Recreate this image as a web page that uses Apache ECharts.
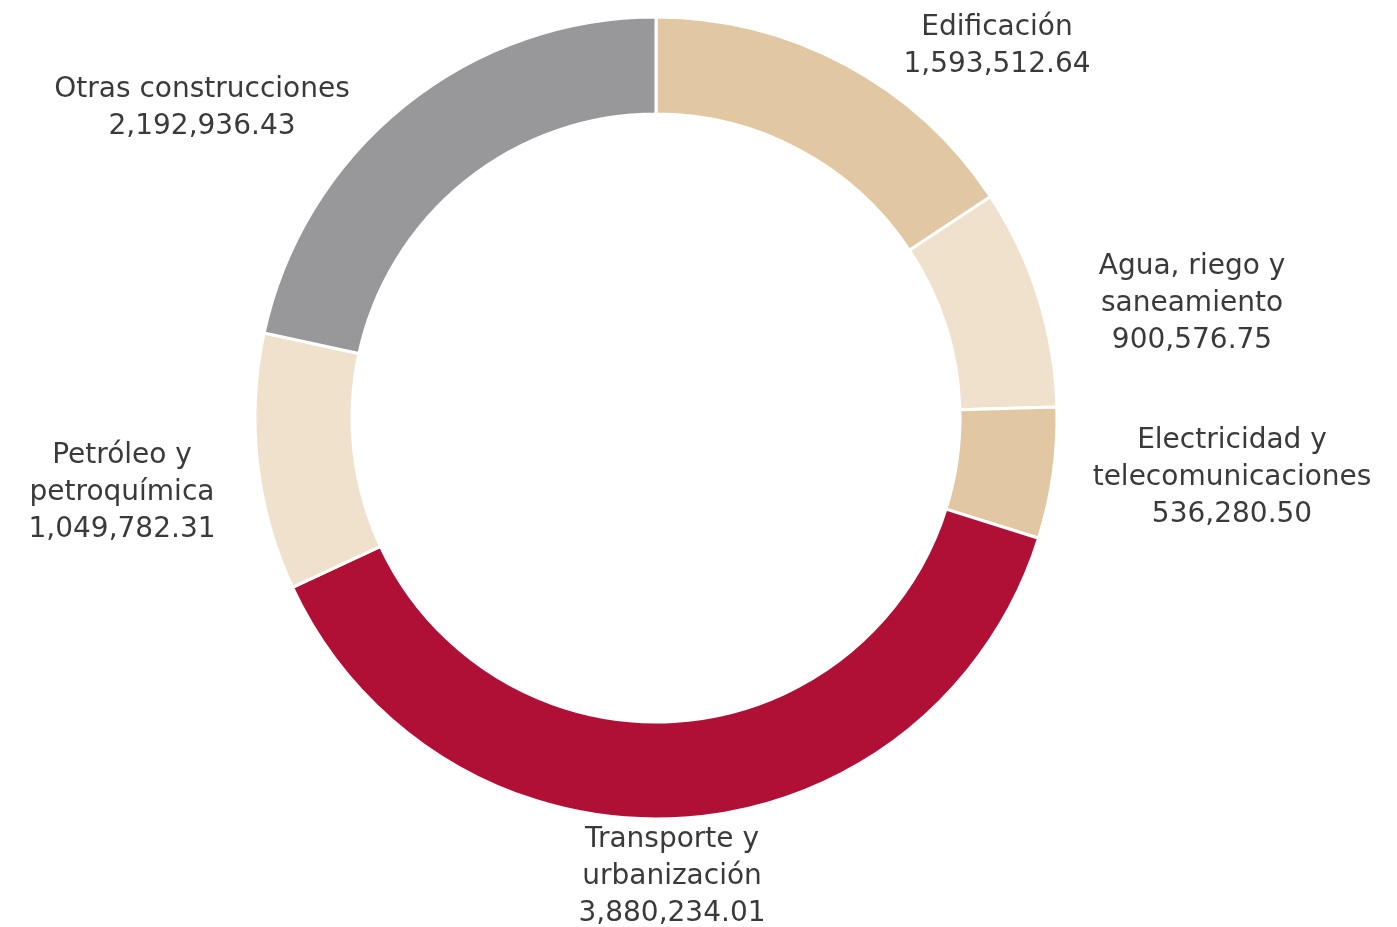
<!DOCTYPE html>
<html>
<head>
<meta charset="utf-8" />
<title>Inversión por tipo de obra</title>
<script src="https://cdn.jsdelivr.net/npm/echarts@6/dist/echarts.min.js"></script>
<style>
  html, body { margin: 0; padding: 0; background: #fff; }
  #main { width: 1397px; height: 927px; }
</style>
</head>
<body>
<div id="main"></div>
<script type="text/javascript">
// categorias y valores (en el orden de las agujas del reloj desde arriba)
var categorias = ['Edificación', 'Agua, riego y\nsaneamiento', 'Electricidad y\ntelecomunicaciones',
                  'Transporte y\nurbanización', 'Petróleo y\npetroquímica', 'Otras construcciones'];
var valores = [1593512.64, 900576.75, 536280.50, 3880234.01, 1049782.31, 2192936.43];
var colores = ['#e2c8a2', '#f0e1cd', '#e2c8a2', '#b01036', '#f0e1cd', '#98989a'];

// donde va cada etiqueta (centro del bloque de texto)
var posEtiquetas = [[997, 46], [1192, 304], [1232, 478], [672, 877], [122, 493], [202, 108]];

var myChart = echarts.init(document.getElementById('main'));

function fmt(v) {
    return v.toLocaleString('en-US', { minimumFractionDigits: 2, maximumFractionDigits: 2 });
}

var datos = [];
for (var i = 0; i < categorias.length; i++) {
    datos.push({ name: categorias[i], value: valores[i], itemStyle: { color: colores[i] } });
}

option = {
    backgroundColor: '#fff',
    animation: false,
    series: [
        {
            type: 'pie',
            center: [656, 418],
            radius: [304, 401],
            startAngle: 90,
            clockwise: true,
            data: datos,
            itemStyle: {
                borderColor: '#fff',
                borderWidth: 3
            },
            label: {
                show: true,
                position: 'outside',
                formatter: function (p) {
                    return p.name + '\n' + fmt(p.value);
                },
                fontFamily: 'DejaVu Sans',
                fontSize: 28,
                lineHeight: 37,
                color: '#3a3a3a',
                align: 'center'
            },
            labelLine: { show: false },
            labelLayout: function (params) {
                var p = posEtiquetas[params.dataIndex];
                return {
                    x: p[0],
                    y: p[1],
                    align: 'center',
                    verticalAlign: 'middle'
                };
            }
        }
    ]
};
myChart.setOption(option);
</script>
</body>
</html>
